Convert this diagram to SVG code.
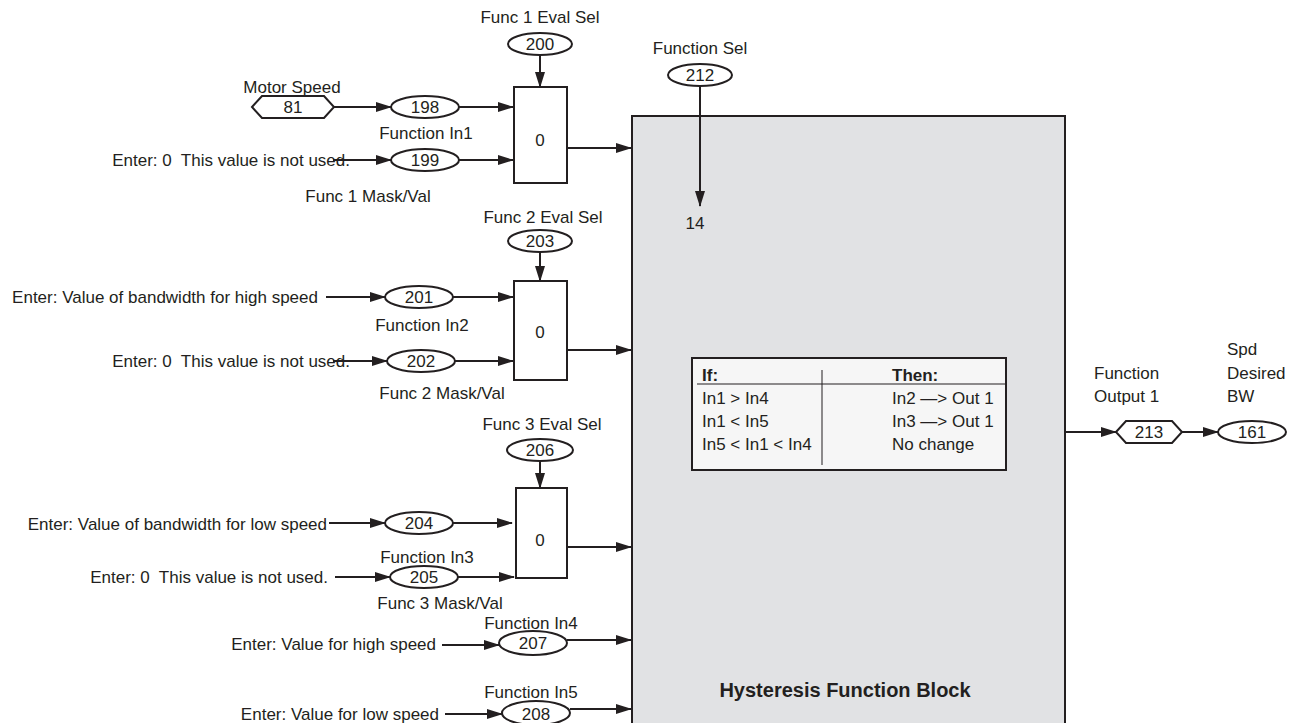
<svg xmlns="http://www.w3.org/2000/svg" width="1302" height="723" viewBox="0 0 1302 723">
<style>
text{font-family:"Liberation Sans",Arial,sans-serif;font-size:17px;fill:#231f20;white-space:pre}
.m{text-anchor:middle}
.e{text-anchor:end}
.b{font-weight:bold}
.ln{stroke:#231f20;stroke-width:2;fill:none}
.sh{stroke:#231f20;stroke-width:2;fill:#fff}
</style>
<defs>
<marker id="ah" markerUnits="userSpaceOnUse" markerWidth="16" markerHeight="10" refX="15" refY="5" orient="auto">
<path d="M0,0 L16,5 L0,10 Z" fill="#231f20"/>
</marker>
</defs>
<g id="block">
<rect x="632" y="116" width="433" height="620" fill="#e1e2e4" stroke="#231f20" stroke-width="2"/>
<text x="845" y="697" class="m b" style="font-size:20px">Hysteresis Function Block</text>
<text x="695" y="229" class="m">14</text>
</g>
<g id="table">
<rect x="692" y="358" width="314" height="112" fill="#f6f6f6" stroke="#231f20" stroke-width="2"/>
<line x1="697" y1="384" x2="1005" y2="384" stroke="#231f20" stroke-width="1"/>
<line x1="822" y1="370" x2="822" y2="465" stroke="#231f20" stroke-width="1"/>
<text x="702" y="381" class="b">If:</text>
<text x="892" y="381" class="b">Then:</text>
<text x="702" y="404">In1 &gt; In4</text>
<text x="702" y="427">In1 &lt; In5</text>
<text x="702" y="450">In5 &lt; In1 &lt; In4</text>
<text x="892" y="404">In2 —&gt; Out 1</text>
<text x="892" y="427">In3 —&gt; Out 1</text>
<text x="892" y="450">No change</text>
</g>
<g id="funcsel">
<text x="700" y="54" class="m">Function Sel</text>
<ellipse cx="700" cy="75" rx="32" ry="11" class="sh"/>
<text x="700" y="81" class="m">212</text>
</g>
<g id="sel1">
<text x="540" y="23" class="m">Func 1 Eval Sel</text>
<ellipse cx="540" cy="44" rx="32" ry="11" class="sh"/>
<text x="540" y="50" class="m">200</text>
<rect x="514" y="87" width="53" height="96" class="sh"/>
<text x="540" y="146" class="m">0</text>
</g>
<g id="motor">
<text x="292" y="93" class="m">Motor Speed</text>
<polygon points="252,107 262,96 324,96 334,107 324,118 262,118" class="sh"/>
<text x="293" y="113" class="m">81</text>
</g>
<g id="in1">
<ellipse cx="425" cy="107" rx="34" ry="11" class="sh"/>
<text x="425" y="113" class="m">198</text>
<text x="426" y="139" class="m">Function In1</text>
</g>
<g id="mask1">
<text x="350" y="166" class="e">Enter: 0  This value is not used.</text>
<ellipse cx="425" cy="160" rx="34" ry="11" class="sh"/>
<text x="425" y="166" class="m">199</text>
<text x="368" y="202" class="m">Func 1 Mask/Val</text>
</g>
<g id="sel2">
<text x="543" y="223" class="m">Func 2 Eval Sel</text>
<ellipse cx="540" cy="241" rx="32" ry="11" class="sh"/>
<text x="540" y="247" class="m">203</text>
<rect x="514" y="281" width="53" height="99" class="sh"/>
<text x="540" y="338" class="m">0</text>
</g>
<g id="in2">
<text x="318" y="303" class="e">Enter: Value of bandwidth for high speed</text>
<ellipse cx="419" cy="297" rx="34" ry="11" class="sh"/>
<text x="419" y="303" class="m">201</text>
<text x="422" y="331" class="m">Function In2</text>
</g>
<g id="mask2">
<text x="350" y="367" class="e">Enter: 0  This value is not used.</text>
<ellipse cx="421" cy="361" rx="34" ry="11" class="sh"/>
<text x="421" y="367" class="m">202</text>
<text x="442" y="399" class="m">Func 2 Mask/Val</text>
</g>
<g id="sel3">
<text x="542" y="430" class="m">Func 3 Eval Sel</text>
<ellipse cx="540" cy="450" rx="33" ry="11" class="sh"/>
<text x="540" y="456" class="m">206</text>
<rect x="516" y="488" width="51" height="90" class="sh"/>
<text x="540" y="546" class="m">0</text>
</g>
<g id="in3">
<text x="327" y="530" class="e">Enter: Value of bandwidth for low speed</text>
<ellipse cx="419" cy="523" rx="34" ry="11" class="sh"/>
<text x="419" y="529" class="m">204</text>
<text x="427" y="563" class="m">Function In3</text>
</g>
<g id="mask3">
<text x="328" y="583" class="e">Enter: 0  This value is not used.</text>
<ellipse cx="424" cy="577" rx="34" ry="11" class="sh"/>
<text x="424" y="583" class="m">205</text>
<text x="440" y="609" class="m">Func 3 Mask/Val</text>
</g>
<g id="in4">
<text x="531" y="629" class="m">Function In4</text>
<text x="436" y="650" class="e">Enter: Value for high speed</text>
<ellipse cx="533" cy="643" rx="34" ry="12" class="sh"/>
<text x="533" y="649" class="m">207</text>
</g>
<g id="in5">
<text x="531" y="698" class="m">Function In5</text>
<text x="439" y="720" class="e">Enter: Value for low speed</text>
<ellipse cx="536" cy="713" rx="34" ry="12" class="sh"/>
<text x="536" y="720" class="m">208</text>
</g>
<g id="out">
<text x="1094" y="379">Function</text>
<text x="1094" y="402">Output 1</text>
<polygon points="1116,432 1126,421 1172,421 1182,432 1172,443 1126,443" class="sh"/>
<text x="1149" y="438" class="m">213</text>
</g>
<g id="bw">
<text x="1227" y="355">Spd</text>
<text x="1227" y="379">Desired</text>
<text x="1227" y="402">BW</text>
<ellipse cx="1252" cy="432" rx="34" ry="11" class="sh"/>
<text x="1252" y="438" class="m">161</text>
</g>
<g id="connectors">
<line x1="700" y1="86" x2="700" y2="206" class="ln" marker-end="url(#ah)"/>
<line x1="540" y1="55" x2="540" y2="87" class="ln" marker-end="url(#ah)"/>
<line x1="334" y1="107" x2="391" y2="107" class="ln" marker-end="url(#ah)"/>
<line x1="459" y1="107" x2="513" y2="107" class="ln" marker-end="url(#ah)"/>
<line x1="333" y1="160" x2="391" y2="160" class="ln" marker-end="url(#ah)"/>
<line x1="459" y1="160" x2="513" y2="160" class="ln" marker-end="url(#ah)"/>
<line x1="567" y1="148" x2="631" y2="148" class="ln" marker-end="url(#ah)"/>
<line x1="540" y1="252" x2="540" y2="281" class="ln" marker-end="url(#ah)"/>
<line x1="326" y1="297" x2="385" y2="297" class="ln" marker-end="url(#ah)"/>
<line x1="453" y1="297" x2="513" y2="297" class="ln" marker-end="url(#ah)"/>
<line x1="333" y1="361" x2="387" y2="361" class="ln" marker-end="url(#ah)"/>
<line x1="455" y1="361" x2="513" y2="361" class="ln" marker-end="url(#ah)"/>
<line x1="567" y1="350" x2="631" y2="350" class="ln" marker-end="url(#ah)"/>
<line x1="540" y1="461" x2="540" y2="488" class="ln" marker-end="url(#ah)"/>
<line x1="329" y1="523" x2="385" y2="523" class="ln" marker-end="url(#ah)"/>
<line x1="453" y1="523" x2="512" y2="523" class="ln" marker-end="url(#ah)"/>
<line x1="335" y1="577" x2="390" y2="577" class="ln" marker-end="url(#ah)"/>
<line x1="458" y1="577" x2="514" y2="577" class="ln" marker-end="url(#ah)"/>
<line x1="567" y1="547" x2="631" y2="547" class="ln" marker-end="url(#ah)"/>
<line x1="442" y1="645" x2="499" y2="645" class="ln" marker-end="url(#ah)"/>
<line x1="567" y1="640" x2="631" y2="640" class="ln" marker-end="url(#ah)"/>
<line x1="445" y1="714" x2="502" y2="714" class="ln" marker-end="url(#ah)"/>
<line x1="570" y1="709" x2="631" y2="709" class="ln" marker-end="url(#ah)"/>
<line x1="1065" y1="432" x2="1116" y2="432" class="ln" marker-end="url(#ah)"/>
<line x1="1182" y1="432" x2="1218" y2="432" class="ln" marker-end="url(#ah)"/>
</g>
</svg>
